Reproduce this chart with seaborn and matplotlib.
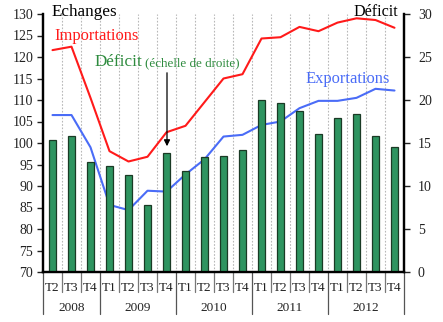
import numpy as np
import pandas as pd
import matplotlib
matplotlib.use("Agg")
import matplotlib.pyplot as plt
import matplotlib.transforms as mtransforms
import seaborn as sns

# ---- data ----
quarters = ["T2", "T3", "T4",
            "T1", "T2", "T3", "T4",
            "T1", "T2", "T3", "T4",
            "T1", "T2", "T3", "T4",
            "T1", "T2", "T3", "T4"]
years = ["2008", "2009", "2010", "2011", "2012"]
year_counts = [3, 4, 4, 4, 4]
importations = [121.6, 122.4, 110.5, 98.1, 95.7, 96.8, 102.5,
                104.0, 109.5, 115.0, 116.0, 124.3, 124.6, 127.0,
                126.0, 128.0, 129.0, 128.6, 126.8]
exportations = [106.5, 106.5, 99.0, 85.6, 84.4, 88.9, 88.7,
                92.7, 96.2, 101.5, 101.9, 104.2, 105.0, 108.1,
                109.8, 109.8, 110.5, 112.6, 112.2]
deficit = [15.35, 15.8, 12.8, 12.3, 11.3, 7.8, 13.8,
           11.75, 13.35, 13.5, 14.2, 20.0, 19.65, 18.7,
           16.05, 17.9, 18.4, 15.8, 14.5]
left_ticks = [70, 75, 80, 85, 90, 95, 100, 105, 110, 115, 120, 125, 130]
right_ticks = [0, 5, 10, 15, 20, 25, 30]

sns.set_style("white")
plt.rcParams['font.family'] = ['Liberation Serif', 'DejaVu Serif']

n = len(quarters)
df = pd.DataFrame({"idx": np.arange(n), "cat": [f"{i}" for i in range(n)],
                   "imp": importations, "exp": exportations, "def": deficit})

W, H = 443, 322
fig = plt.figure(figsize=(W / 100, H / 100), dpi=100)
ax = fig.add_axes([43 / W, 1 - 272 / H, (404 - 43) / W, (272 - 14) / H])
ax2 = ax.twinx()

sns.lineplot(data=df, x="idx", y="imp", ax=ax, color="#ff1a1a", linewidth=1.5)
sns.lineplot(data=df, x="idx", y="exp", ax=ax, color="#4a6cf7", linewidth=1.5)
sns.barplot(data=df, x="cat", y="def", ax=ax2, color="#2e9460", width=0.42,
            saturation=1, edgecolor="#1a3a25", linewidth=0.9)

ax.set_xlim(-0.5, n - 0.5)
ax.set_ylim(70, 130)
ax2.set_ylim(0, 30)
ax.set_yticks(left_ticks)
ax2.set_yticks(right_ticks)
for a in (ax, ax2):
    a.set_xlabel("")
    a.set_ylabel("")

# ticks (shared x axis) and grid at category boundaries
ax.set_xticks(np.arange(n))
ax.set_xticklabels(quarters, fontsize=9.5, color="#222222")
ax.set_xticks(np.arange(0.5, n - 1, 1.0), minor=True)
ax.grid(False)
ax2.grid(False)
ax.xaxis.grid(True, which="minor", linestyle=(0, (1.5, 1.5)), color="#b8b8b8", linewidth=0.8)
ax.tick_params(axis="x", which="both", length=0, pad=7)
ax.tick_params(axis="y", labelsize=10, length=4, width=1, direction="out", colors="#222222",
               pad=3, left=True)
ax2.tick_params(axis="y", labelsize=10, length=4, width=1, direction="out", colors="#222222",
                pad=6, right=True)

for a in (ax, ax2):
    a.spines["top"].set_visible(False)
    for s in ("left", "right", "bottom"):
        a.spines[s].set_linewidth(1.6)
        a.spines[s].set_color("black")

# separators below the axis
trans = mtransforms.blended_transform_factory(ax.transData, ax.transAxes)
bounds = np.arange(-0.5, n, 1.0)
year_bounds = np.concatenate([[-0.5], -0.5 + np.cumsum(year_counts)])
for b in bounds:
    if np.any(np.isclose(b, year_bounds)):
        ax.plot([b, b], [0, -0.162], transform=trans, color="#555555", lw=0.9, clip_on=False)
    else:
        ax.plot([b, b], [0, -0.078], transform=trans, color="#777777", lw=0.9, clip_on=False)

start = -0.5
for yname, c in zip(years, year_counts):
    ax.text(start + c / 2, -0.14, yname, transform=trans, ha="center", va="center",
            fontsize=9.5, color="#222222")
    start += c

# annotations
def ftext(x, y, s, **kw):
    fig.text(x / W, 1 - y / H, s, **kw)

ftext(52, 12, "Echanges", fontsize=12.3, color="black", ha="left", va="center")
ftext(398, 12, "Déficit", fontsize=11.6, color="black", ha="right", va="center")
ftext(54, 36, "Importations", fontsize=11.9, color="#ff1a1a", ha="left", va="center")
ftext(95, 62, "Déficit", fontsize=12.3, color="#2e8b3e", ha="left", va="center")
ftext(145, 63, "(échelle de droite)", fontsize=9.4, color="#2e8b3e", ha="left", va="center")
ftext(306, 79, "Exportations", fontsize=11.9, color="#4a6cf7", ha="left", va="center")

fig.patches.append(matplotlib.patches.FancyArrowPatch(
    (167 / W, 1 - 70 / H), (167 / W, 1 - 149 / H), transform=fig.transFigure,
    arrowstyle="-|>", mutation_scale=9, color="black", lw=0.9))

fig.savefig("out.png", dpi=100)
